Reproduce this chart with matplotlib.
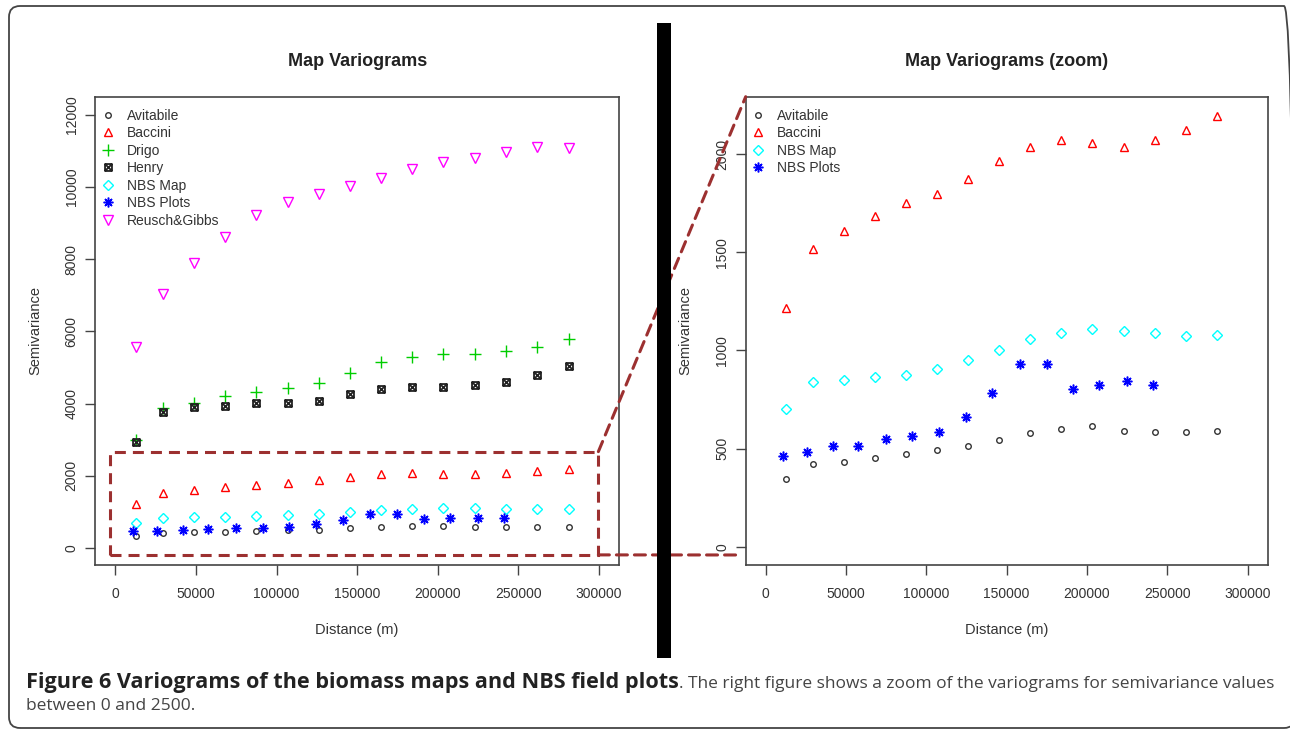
import matplotlib
matplotlib.use("Agg")
import matplotlib.pyplot as plt
from matplotlib.path import Path
from matplotlib.patches import FancyBboxPatch, Rectangle, ConnectionPatch
from matplotlib.transforms import IdentityTransform

# lag distances (m)
lags_map = [12800, 29800, 48800, 68000, 87400, 106800, 126200, 145400,
            164600, 184000, 203400, 222800, 242200, 261700, 281100]
lags_plots = [10900, 25800, 41700, 57800, 74800, 91400, 107700, 124600,
              141100, 158200, 175000, 191600, 207700, 225000, 241300]

# semivariance per map / plots
avitabile = [344, 422, 432, 451, 471, 491, 513, 544, 578, 602, 615, 591, 586, 586, 591]
baccini = [1216, 1518, 1606, 1682, 1750, 1794, 1872, 1965, 2038, 2070, 2056, 2038, 2072, 2121, 2192]
drigo = [2992, 3886, 4025, 4211, 4321, 4423, 4580, 4848, 5161, 5291, 5374, 5374, 5457, 5560, 5790]
henry = [2945, 3776, 3897, 3942, 4008, 4008, 4081, 4266, 4404, 4468, 4451, 4524, 4607, 4792, 5050]
nbs_map = [703, 839, 851, 864, 877, 903, 949, 1004, 1060, 1089, 1111, 1101, 1089, 1071, 1076]
nbs_plots = [462, 480, 512, 515, 551, 564, 584, 661, 781, 932, 932, 801, 823, 844, 822]
reusch = [5560, 7036, 7886, 8607, 9216, 9593, 9806, 10028, 10241, 10490, 10684, 10812, 10978, 11100, 11090]

xticks = [0, 50000, 100000, 150000, 200000, 250000, 300000]
yticks_full = [0, 2000, 4000, 6000, 8000, 10000, 12000]
yticks_zoom = [0, 500, 1000, 1500, 2000]

plt.rcParams['font.family'] = ['Liberation Sans', 'DejaVu Sans']

# R pch=7: square with a cross in it
box_x = Path([(-1, -1), (1, -1), (1, 1), (-1, 1), (-1, -1), (-1, -1), (1, 1), (-1, 1), (1, -1)],
             [Path.MOVETO, Path.LINETO, Path.LINETO, Path.LINETO, Path.CLOSEPOLY,
              Path.MOVETO, Path.LINETO, Path.MOVETO, Path.LINETO])

styles = {
    'Avitabile': dict(marker='o', ms=4.0, mew=1.0, color='#333333'),
    'Baccini': dict(marker='^', ms=6.3, mew=1.0, color='#FF0000'),
    'Drigo': dict(marker='+', ms=8.5, mew=1.0, color='#00CD00'),
    'Henry': dict(marker=box_x, ms=5.0, mew=1.3, color='#222222'),
    'NBS Map': dict(marker='D', ms=5.3, mew=1.0, color='#00FFFF'),
    'NBS Plots': dict(marker=(8, 2, 0), ms=7.0, mew=1.1, color='#0000FF'),
    'Reusch&Gibbs': dict(marker='v', ms=6.5, mew=1.0, color='#FF00FF'),
}

fig = plt.figure(figsize=(12.9, 7.3), dpi=100)
ax1 = fig.add_axes([0.07388, 0.22603, 0.40597, 0.64151])
ax2 = fig.add_axes([0.57806, 0.22603, 0.40450, 0.64151])


def draw(ax, series, ylim, yticks, title):
    for name, x, y in series:
        st = styles[name]
        ax.plot(x, y, linestyle='none', marker=st['marker'], ms=st['ms'],
                mfc='none', mec=st['color'], mew=st['mew'], label=name)
    ax.set_xlim(-12400, 312400)
    ax.set_ylim(*ylim)
    ax.set_xticks(xticks)
    ax.set_yticks(yticks)
    ax.set_xticklabels([str(v) for v in xticks])
    ax.set_yticklabels([str(v) for v in yticks], rotation=90, va='center')
    ax.tick_params(axis='both', direction='out', length=7, width=1,
                   colors='#444444', labelcolor='#333333', labelsize=10)
    ax.tick_params(axis='x', pad=9)
    ax.tick_params(axis='y', pad=5)
    for sp in ax.spines.values():
        sp.set_color('#444444')
        sp.set_linewidth(1.2)
    ax.set_xlabel('Distance (m)', fontsize=10.5, color='#333333', va='center')
    ax.set_ylabel('Semivariance', fontsize=10.5, color='#333333', va='center')
    ax.xaxis.set_label_coords(0.5, -0.139)
    ax.yaxis.set_label_coords(-0.115, 0.5)
    ax.text(0.5, 1.076, title, transform=ax.transAxes, ha='center', va='center',
            fontsize=13, fontweight='bold', color='#222222')
    ax.legend(loc='upper left', bbox_to_anchor=(0.0109, 0.974), frameon=False,
              borderaxespad=0, borderpad=0, handlelength=1.0, handletextpad=0.84,
              labelspacing=0.25, fontsize=10, labelcolor='#333333', numpoints=1)


draw(ax1, [('Avitabile', lags_map, avitabile),
           ('Baccini', lags_map, baccini),
           ('Drigo', lags_map, drigo),
           ('Henry', lags_map, henry),
           ('NBS Map', lags_map, nbs_map),
           ('NBS Plots', lags_plots, nbs_plots),
           ('Reusch&Gibbs', lags_map, reusch)],
     (-470, 12500), yticks_full, 'Map Variograms')

draw(ax2, [('Avitabile', lags_map, avitabile),
           ('Baccini', lags_map, baccini),
           ('NBS Map', lags_map, nbs_map),
           ('NBS Plots', lags_plots, nbs_plots)],
     (-93, 2292), yticks_zoom, 'Map Variograms (zoom)')

# dashed zoom box and connecting lines
dash_col = '#9C3030'
dash_ls = (0, (3.6, 2.3))
zoom_x = (-3400, 299600)
zoom_y = (-190, 2670)
ax1.add_patch(Rectangle((zoom_x[0], zoom_y[0]), zoom_x[1] - zoom_x[0], zoom_y[1] - zoom_y[0],
                        fill=False, ec=dash_col, lw=2.2, ls=dash_ls, clip_on=False, zorder=5))
fig.add_artist(ConnectionPatch(xyA=(zoom_x[1], zoom_y[1]), coordsA=ax1.transData,
                               xyB=(0, 1), coordsB=ax2.transAxes,
                               color=dash_col, lw=2.2, ls=dash_ls, zorder=5))
fig.add_artist(ConnectionPatch(xyA=(zoom_x[1], zoom_y[0]), coordsA=ax1.transData,
                               xyB=(-0.01, 0.0214), coordsB=ax2.transAxes,
                               color=dash_col, lw=2.2, ls=dash_ls, zorder=5))

# black separator bar and rounded outer frame (pixel coords, right side runs off the image)
fig.add_artist(Rectangle((657, 72), 14, 635, transform=IdentityTransform(),
                         fc='black', ec='none', zorder=10))
fig.add_artist(FancyBboxPatch((9, 2), 1286, 722, boxstyle='round,pad=0,rounding_size=11',
                              transform=IdentityTransform(), fill=False,
                              ec='#444444', lw=1.3, zorder=10))

# caption: fit the bold and the plain part to their widths in the reference
cap_font = 'Open Sans'
renderer = fig.canvas.get_renderer()
t1 = fig.text(26 / 1290, 1 - 688 / 730, 'Figure 6 Variograms of the biomass maps and NBS field plots',
              fontsize=11, fontweight='bold', family=cap_font, color='#222222', va='baseline')
t1.set_fontsize(11 * 654 / t1.get_window_extent(renderer).width)
bb = t1.get_window_extent(renderer)
t2 = fig.text(bb.x1 / 1290, 1 - 688 / 730,
              '. The right figure shows a zoom of the variograms for semivariance values',
              fontsize=11, family=cap_font, color='#444444', va='baseline')
fs2 = 11 * (1277 - bb.x1) / t2.get_window_extent(renderer).width
t2.set_fontsize(fs2)
fig.text(26 / 1290, 1 - 710 / 730, 'between 0 and 2500.',
         fontsize=fs2, family=cap_font, color='#444444', va='baseline')

fig.savefig('out.png', dpi=100)
